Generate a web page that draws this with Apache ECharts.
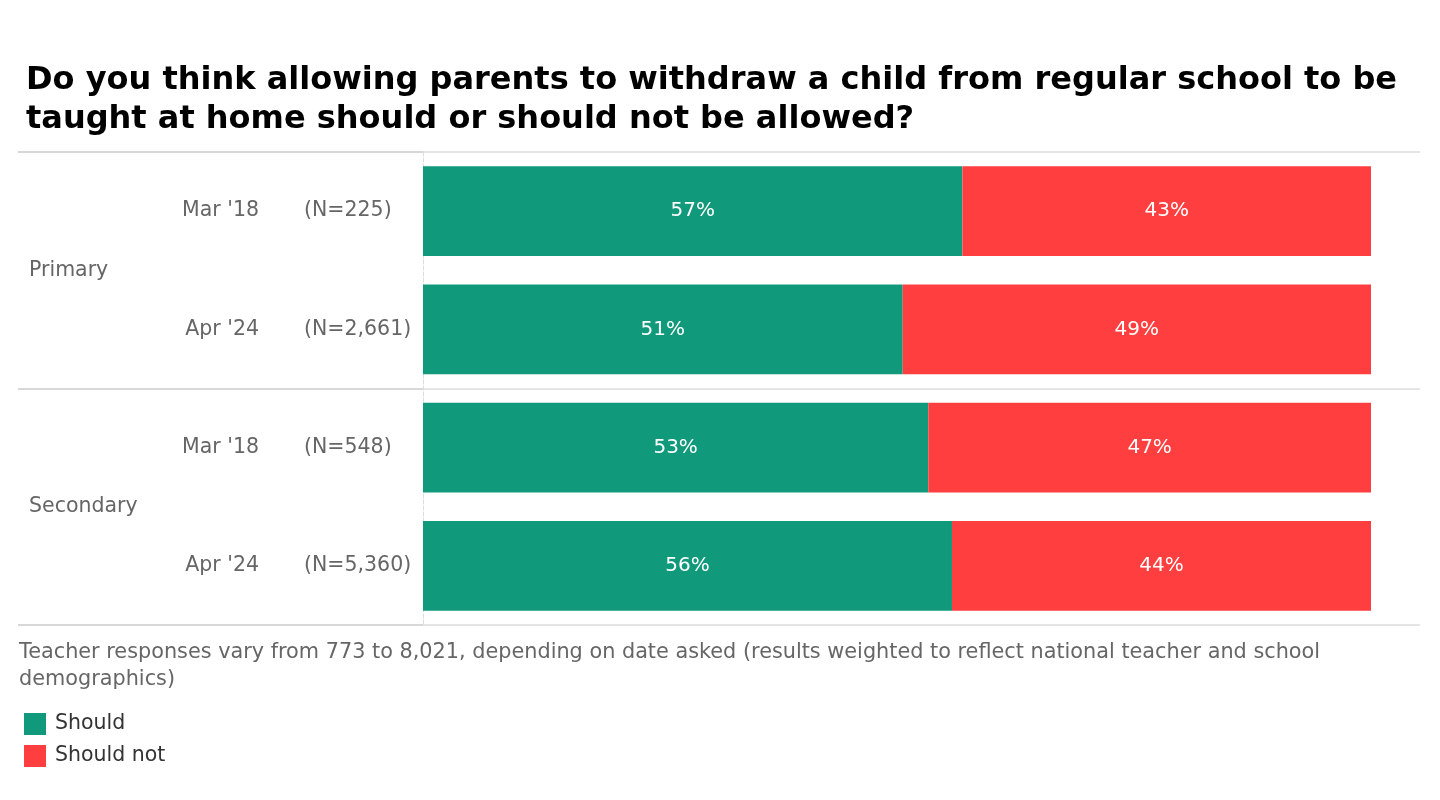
<!DOCTYPE html>
<html><head><meta charset="utf-8">
<script src="https://cdn.jsdelivr.net/npm/echarts@6/dist/echarts.min.js"></script>
<style>html,body{margin:0;padding:0;background:#fff}#c{width:1440px;height:800px}</style>
</head><body><div id="c"></div>
<script>
const dates = ["Mar '18", "Apr '24", "Mar '18", "Apr '24"];
const sampleSizes = ["(N=225)", "(N=2,661)", "(N=548)", "(N=5,360)"];
const groups = ["Primary", "Secondary"];
const shouldValues = [56.9, 50.6, 53.3, 55.8];
const shouldNotValues = [43.1, 49.4, 46.7, 44.2];
const seriesNames = ["Should", "Should not"];

const FONT = 'DejaVu Sans';
const chart = echarts.init(document.getElementById('c'));
const labelCfg = {show: true, position: 'inside', color: '#fff', fontSize: 20, fontFamily: FONT,
  padding: [2, 0, 0, 0], formatter: p => Math.round(p.value) + '%'};
chart.setOption({
  animation: false,
  textStyle: {fontFamily: FONT},
  title: [{
    text: 'Do you think allowing parents to withdraw a child from regular school to be\ntaught at home should or should not be allowed?',
    left: 26, top: 61, padding: 0,
    textStyle: {fontSize: 32, fontWeight: 'bold', color: '#000', lineHeight: 39, fontFamily: FONT}
  }, {
    text: 'Teacher responses vary from 773 to 8,021, depending on date asked (results weighted to reflect national teacher and school demographics)',
    left: 19, top: 639, padding: 0,
    textStyle: {fontSize: 20.8, fontWeight: 'normal', color: '#666', lineHeight: 27, fontFamily: FONT,
      width: 1380, overflow: 'break'}
  }],
  legend: {
    orient: 'vertical', left: 24, top: 713, padding: 0, itemWidth: 22, itemHeight: 22, itemGap: 10,
    icon: 'rect', textStyle: {fontSize: 20.5, color: '#333', fontFamily: FONT, padding: [0, 0, 0, 4]},
    data: seriesNames
  },
  grid: {left: 423, right: 20, top: 152, bottom: 175},
  xAxis: {type: 'value', min: 0, max: 100 * 997 / 948, show: false},
  yAxis: [{
    type: 'category', data: dates, inverse: true,
    axisLine: {show: true, lineStyle: {color: '#ddd', type: 'dashed', width: 1}},
    axisTick: {show: false},
    axisLabel: {color: '#666', fontSize: 20.5, margin: 164, align: 'right', fontFamily: FONT, padding: [5, 0, 0, 0]}
  }, {
    type: 'category', data: sampleSizes, inverse: true, position: 'left',
    axisLine: {show: false}, axisTick: {show: false},
    axisLabel: {color: '#666', fontSize: 20.5, margin: 119, align: 'left', fontFamily: FONT, padding: [5, 0, 0, 0]}
  }, {
    type: 'category', data: groups, inverse: true, position: 'left',
    axisLine: {show: false},
    axisTick: {show: true, length: 405, lineStyle: {color: '#ccc', width: 1.5}},
    splitLine: {show: true, lineStyle: {color: '#ddd', width: 1.5}},
    axisLabel: {color: '#666', fontSize: 20.5, margin: 394, align: 'left', fontFamily: FONT, padding: [4, 0, 0, 0]}
  }],
  series: [{
    name: seriesNames[0], type: 'bar', stack: 'a', data: shouldValues, barWidth: '76%',
    itemStyle: {color: '#10997A'}, label: labelCfg
  }, {
    name: seriesNames[1], type: 'bar', stack: 'a', data: shouldNotValues, barWidth: '76%',
    itemStyle: {color: '#FF3F3F'}, label: labelCfg
  }]
});
</script></body></html>
